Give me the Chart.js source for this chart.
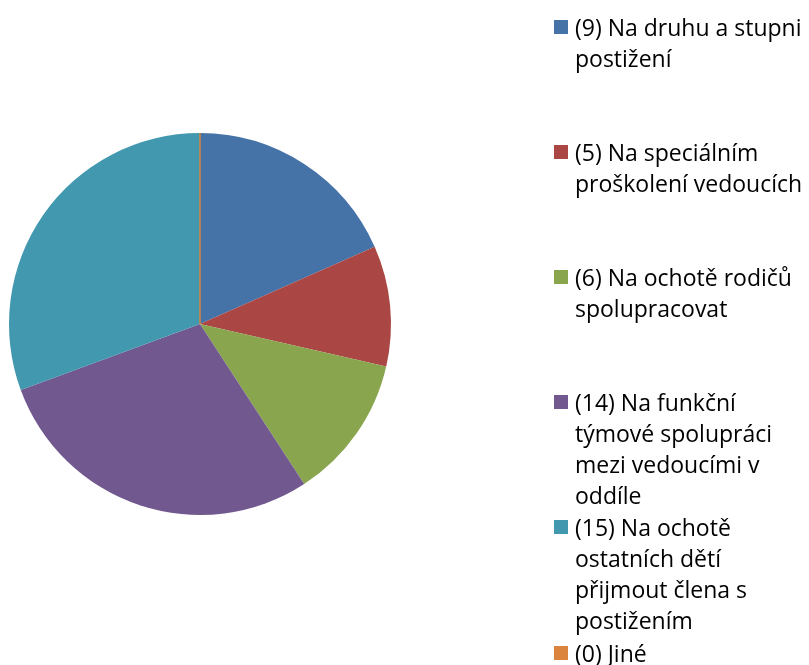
<!DOCTYPE html>
<html><head><meta charset="utf-8">
<script src="https://cdn.jsdelivr.net/npm/chart.js@4/dist/chart.umd.min.js"></script>
<style>
html,body{margin:0;padding:0;background:#fff;width:809px;height:665px;overflow:hidden;}
#wrap{position:absolute;left:0;top:0;width:400px;height:648px;}
#legend{position:absolute;left:0;top:0;width:809px;height:665px;font-family:"Open Sans",sans-serif;font-size:23px;color:#000;}
.item{position:absolute;left:554px;width:260px;line-height:31px;}
.sw{position:absolute;left:0;top:8px;width:14px;height:14px;}
.tx{position:absolute;left:21px;top:0;white-space:nowrap;}
</style></head>
<body>
<div id="wrap"><canvas id="c"></canvas></div>
<div id="legend"></div>
<script>
const categories = [
  "(9) Na druhu a stupni postižení",
  "(5) Na speciálním proškolení vedoucích",
  "(6) Na ochotě rodičů spolupracovat",
  "(14) Na funkční týmové spolupráci mezi vedoucími v oddíle",
  "(15) Na ochotě ostatních dětí přijmout člena s postižením",
  "(0) Jiné"
];
const legendLines = [
  ["(9) Na druhu a stupni", "postižení"],
  ["(5) Na speciálním", "proškolení vedoucích"],
  ["(6) Na ochotě rodičů", "spolupracovat"],
  ["(14) Na funkční", "týmové spolupráci", "mezi vedoucími v", "oddíle"],
  ["(15) Na ochotě", "ostatních dětí", "přijmout člena s", "postižením"],
  ["(0) Jiné"]
];
const values = [9, 5, 6, 14, 15, 0];
const colors = ["#4572A7", "#AA4643", "#89A54E", "#71588F", "#4198AF", "#DB843D"];

const zeroLines = {
  id: 'zeroLines',
  afterDatasetsDraw(chart) {
    const meta = chart.getDatasetMeta(0);
    const ctx = chart.ctx;
    meta.data.forEach((arc, i) => {
      if (values[i] === 0) {
        const p = arc.getProps(['x','y','startAngle','outerRadius'], true);
        ctx.save();
        ctx.strokeStyle = colors[i];
        ctx.lineWidth = 1.5;
        ctx.beginPath();
        ctx.moveTo(p.x, p.y);
        ctx.lineTo(p.x + p.outerRadius * Math.cos(p.startAngle), p.y + p.outerRadius * Math.sin(p.startAngle));
        ctx.stroke();
        ctx.restore();
      }
    });
  }
};

new Chart(document.getElementById('c'), {
  type: 'pie',
  data: { labels: categories, datasets: [{ data: values, backgroundColor: colors, borderWidth: 0, hoverOffset: 0 }] },
  options: {
    responsive: true, maintainAspectRatio: false, animation: false,
    layout: { padding: { left: 9, right: 9, top: 0, bottom: 0 } },
    plugins: { legend: { display: false }, tooltip: { enabled: false } }
  },
  plugins: [zeroLines]
});

const lg = document.getElementById('legend');
const firstLine = 27, step = 125.2;
legendLines.forEach((lines, i) => {
  const it = document.createElement('div');
  it.className = 'item';
  it.style.top = (firstLine + i * step - 15.5) + 'px';
  const sw = document.createElement('div');
  sw.className = 'sw'; sw.style.background = colors[i];
  const tx = document.createElement('div');
  tx.className = 'tx'; tx.innerHTML = lines.join('<br>');
  it.appendChild(sw); it.appendChild(tx);
  lg.appendChild(it);
});
</script>
</body></html>
